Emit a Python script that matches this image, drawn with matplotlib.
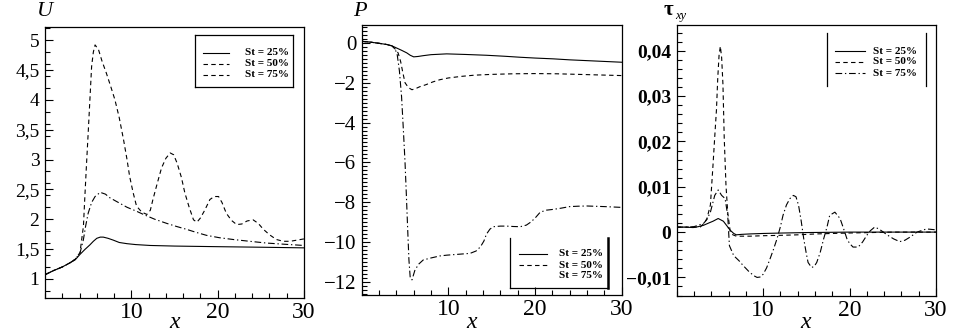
import matplotlib
matplotlib.use("Agg")
import matplotlib.pyplot as plt
from matplotlib.lines import Line2D
from matplotlib.ticker import MultipleLocator, FuncFormatter

# ---- data (x, value) ----
ST_LABELS = ["St = 25%", "St = 50%", "St = 75%"]

# panel 1: U
u_x25 = [0, 1, 2, 2.9, 3.5, 4.05, 4.6, 5.2, 5.6, 6.0, 6.4, 6.75, 7.3, 7.9, 8.6,
         9.5, 10.5, 12.2, 15, 19.9, 25.3, 30]
u_25 = [1.07, 1.14, 1.2, 1.27, 1.32, 1.41, 1.49, 1.57, 1.63, 1.68, 1.70, 1.70,
        1.68, 1.65, 1.61, 1.59, 1.575, 1.56, 1.55, 1.54, 1.53, 1.52]

u_x50 = [0, 1, 2, 2.9, 3.5, 4.05, 4.45, 4.6, 4.8, 5.0, 5.2, 5.4, 5.6, 5.8, 6.2,
         6.6, 7.1, 7.6, 8.1, 8.6, 9.1, 9.5, 9.8, 10.2, 10.6, 11.2, 11.8, 12.2,
         12.5, 13.0, 13.5, 14.0, 14.5, 14.9, 15.3, 15.8, 16.2, 16.7, 17.2, 17.6,
         18.0, 18.5, 19.1, 19.6, 20.1, 20.5, 21.0, 21.6, 22.2, 22.8, 23.4, 24.1,
         24.7, 25.3, 26.0, 26.8, 27.6, 28.4, 29.2, 30]
u_50 = [1.07, 1.14, 1.2, 1.27, 1.33, 1.44, 1.88, 2.33, 2.9, 3.44, 4.0, 4.56,
        4.8, 4.92, 4.84, 4.65, 4.45, 4.23, 4.0, 3.7, 3.33, 3.0, 2.72, 2.45, 2.22,
        2.12, 2.08, 2.15, 2.33, 2.6, 2.86, 3.02, 3.11, 3.08, 2.94, 2.7, 2.44, 2.2,
        1.99, 1.95, 2.02, 2.15, 2.33, 2.38, 2.38, 2.28, 2.1, 1.98, 1.91, 1.92,
        1.97, 1.99, 1.93, 1.83, 1.74, 1.66, 1.63, 1.63, 1.65, 1.67]

u_x75 = [0, 1, 2, 2.9, 3.5, 4.05, 4.45, 4.7, 5.0, 5.4, 5.8, 6.4, 7.0, 7.5, 8.5,
         9.5, 10.5, 11.4, 12.7, 14.1, 15.2, 16.4, 17.5, 18.7, 20.2, 21.8, 23.7,
         25.7, 27.8, 30]
u_75 = [1.07, 1.14, 1.2, 1.27, 1.33, 1.43, 1.66, 1.88, 2.1, 2.28, 2.38, 2.45,
        2.42, 2.36, 2.28, 2.2, 2.14, 2.08, 2.0, 1.93, 1.88, 1.83, 1.78, 1.73,
        1.69, 1.66, 1.63, 1.60, 1.58, 1.56]

# panel 2: P
p_x25 = [0, 1, 2, 2.9, 3.5, 4.0, 4.6, 5.2, 5.6, 6.0, 6.5, 7.1, 8.0, 9.8, 12,
         14.4, 16.5, 18.3, 20, 22.1, 24, 26, 28, 30]
p_25 = [0.08, 0.04, -0.02, -0.08, -0.15, -0.25, -0.37, -0.5, -0.62, -0.7,
        -0.68, -0.64, -0.59, -0.55, -0.58, -0.62, -0.67, -0.72, -0.76, -0.8,
        -0.85, -0.89, -0.93, -0.97]

p_x50 = [0, 1, 2, 2.9, 3.5, 3.85, 4.2, 4.5, 4.75, 5.0, 5.4, 5.8, 6.2, 6.7, 7.4,
         8.2, 9.0, 10, 11.5, 13, 15, 17.5, 20, 22.5, 25, 27.5, 30]
p_50 = [0.08, 0.04, -0.02, -0.08, -0.15, -0.3, -0.5, -0.95, -1.5, -2.0, -2.25,
        -2.35, -2.3, -2.2, -2.1, -1.96, -1.85, -1.76, -1.68, -1.62, -1.58,
        -1.55, -1.54, -1.55, -1.58, -1.61, -1.64]

p_x75 = [0, 1, 2, 2.9, 3.5, 3.85, 4.1, 4.35, 4.6, 4.8, 5.0, 5.15, 5.3, 5.45,
         5.6, 5.8, 6.15, 6.6, 7.1, 8.0, 9.0, 9.8, 11, 12.5, 13.2, 13.7, 14.1,
         14.4, 14.8, 15.2, 16, 16.7, 17.5, 18.3, 19, 19.5, 20, 20.6, 21.3, 22.1,
         23, 24, 25, 26, 28, 30]
p_75 = [0.08, 0.04, -0.02, -0.08, -0.15, -0.3, -0.6, -1.4, -2.7, -4.3, -6.0,
        -7.6, -9.3, -10.9, -11.8, -11.9, -11.4, -11.1, -10.9, -10.8, -10.7,
        -10.66, -10.62, -10.57, -10.45, -10.24, -9.95, -9.6, -9.35, -9.23, -9.2,
        -9.2, -9.22, -9.23, -9.15, -9.0, -8.8, -8.5, -8.4, -8.36, -8.3, -8.22,
        -8.2, -8.19, -8.22, -8.26]

# panel 3: tau_xy
t_x25 = [0, 1, 1.9, 2.5, 3.1, 3.7, 4.2, 4.8, 5.4, 5.8, 6.2, 6.6, 6.9, 7.5, 8.5,
         10, 12.3, 15, 20, 25, 30]
t_25 = [0.0011, 0.0011, 0.001, 0.0012, 0.0015, 0.002, 0.0024, 0.003, 0.0024,
        0.0014, 0.0004, -0.0003, -0.0006, -0.0005, -0.0004, -0.0003, -0.0002,
        -0.0001, 0.0, 0.0, 0.0]

t_x50 = [0, 1, 2.7, 3.2, 3.5, 3.9, 4.2, 4.4, 4.6, 4.75, 4.9, 5.05, 5.2, 5.35,
         5.5, 5.7, 5.9, 6.2, 6.5, 6.9, 8.5, 10, 12.3, 14, 16.2, 18, 20, 25, 30]
t_50 = [0.0011, 0.0011, 0.0011, 0.002, 0.003, 0.006, 0.0148, 0.021, 0.027,
        0.034, 0.039, 0.041, 0.0385, 0.0326, 0.0207, 0.0104, 0.0044, 0.0,
        -0.0006, -0.0009, -0.0009, -0.0008, -0.0007, -0.0006, -0.0004, -0.0003,
        -0.0002, 0.0, 0.0]

t_x75 = [0, 1, 2, 3.1, 3.5, 3.9, 4.4, 4.8, 5.2, 5.6, 5.9, 6.1, 6.6, 7.2, 7.7,
         8.3, 8.9, 9.3, 9.7, 10.0, 10.4, 10.8, 11.2, 11.6, 12.0, 12.3, 12.7,
         13.1, 13.5, 13.8, 14.1, 14.4, 14.7, 15.0, 15.2, 15.6, 15.9, 16.2, 16.6,
         17.0, 17.4, 17.7, 18.3, 18.9, 19.3, 19.7, 20.0, 20.4, 21.0, 21.5, 22.0,
         22.4, 22.9, 23.4, 23.9, 24.5, 25.1, 25.8, 26.4, 27.0, 27.8, 28.9, 30]
t_75 = [0.0011, 0.0011, 0.0012, 0.0019, 0.0028, 0.0044, 0.0081, 0.0093, 0.0081,
        0.0074, 0.0037, -0.003, -0.0052, -0.0063, -0.0074, -0.0086, -0.0096,
        -0.01, -0.0099, -0.0093, -0.0079, -0.0059, -0.0038, -0.0015, 0.0012,
        0.0037, 0.006, 0.0074, 0.0081, 0.0078, 0.0059, 0.0025, -0.0015, -0.0048,
        -0.0067, -0.0078, -0.0076, -0.0067, -0.0045, -0.0015, 0.0012, 0.0037,
        0.0044, 0.003, 0.0008, -0.0015, -0.0025, -0.0033, -0.0033, -0.0022,
        -0.0007, 0.0003, 0.0011, 0.0007, 0.0, -0.0008, -0.0015, -0.0021, -0.0018,
        -0.0011, 0.0, 0.0007, 0.0005]

FIG_W, FIG_H = 975, 331
FONT = "Liberation Serif"

DASHED = (0, (4, 3))
DASHDOT = (0, (6, 2.5, 1.2, 2.5))


def comma_fmt(v, pos):
    if abs(v) < 1e-9:
        return "0"
    s = f"{v:.4f}".rstrip("0").rstrip(".")
    return s.replace(".", ",").replace("-", "\u2212")


def px(x, y):
    # figure pixel (from top-left) -> figure fraction
    return x / FIG_W, 1 - y / FIG_H


def make_axes(fig, x0, x1, ytop, ybot):
    l, t = px(x0, ytop)
    r, b = px(x1, ybot)
    return fig.add_axes([l, b, r - l, t - b])


def style_axes(ax, ylim, ymajor, yminor, ysize, yweight="normal"):
    ax.set_xlim(0, 30)
    ax.set_ylim(*ylim)
    ax.set_xticks([10, 20, 30])
    ax.xaxis.set_minor_locator(MultipleLocator(2))
    ax.yaxis.set_major_locator(MultipleLocator(ymajor))
    ax.yaxis.set_minor_locator(MultipleLocator(yminor))
    ax.yaxis.set_major_formatter(FuncFormatter(comma_fmt))
    ax.xaxis.set_major_formatter(FuncFormatter(comma_fmt))
    ax.tick_params(direction="in", which="major", length=6, width=0.8)
    ax.tick_params(direction="in", which="minor", length=3.5, width=0.8)
    ax.tick_params(axis="x", labelsize=17, pad=3)
    ax.tick_params(axis="y", labelsize=ysize, pad=4)
    for lab in ax.get_yticklabels():
        lab.set_fontweight(yweight)
    for sp in ax.spines.values():
        sp.set_linewidth(0.9)


def draw_legend(fig, x_line0, x_line1, x_text, rows, styles):
    for y, ls, lab in zip(rows, styles, ST_LABELS):
        if ls is not None:
            a = px(x_line0, y)
            b = px(x_line1, y)
            fig.add_artist(Line2D([a[0], b[0]], [a[1], b[1]], color="black",
                                  lw=0.8, linestyle=ls))
        tx, ty = px(x_text, y)
        fig.text(tx, ty, lab, ha="right", va="center", fontsize=8,
                 fontweight="bold", family=FONT)


def seg(fig, x0, y0, x1, y1, lw=0.9):
    a = px(x0, y0)
    b = px(x1, y1)
    fig.add_artist(Line2D([a[0], b[0]], [a[1], b[1]], color="black", lw=lw))


def main():
    plt.rcParams["font.family"] = [FONT, "DejaVu Sans"]

    fig = plt.figure(figsize=(FIG_W / 100, FIG_H / 100), dpi=100)

    line_kw = dict(color="black", lw=0.8)

    # ---- U ----
    ax1 = make_axes(fig, 45, 304, 27, 298)
    ax1.plot(u_x25, u_25, linestyle="-", **line_kw)
    ax1.plot(u_x50, u_50, linestyle=DASHED, **line_kw)
    ax1.plot(u_x75, u_75, linestyle=DASHDOT, **line_kw)
    style_axes(ax1, (0.68, 5.22), 0.5, 0.2, 14)

    # ---- P ----
    ax2 = make_axes(fig, 361.7, 621.7, 25, 295)
    ax2.plot(p_x25, p_25, linestyle="-", **line_kw)
    ax2.plot(p_x50, p_50, linestyle=DASHED, **line_kw)
    ax2.plot(p_x75, p_75, linestyle=DASHDOT, **line_kw)
    style_axes(ax2, (-12.66, 0.9), 2, 0.2, 15)

    # ---- tau_xy ----
    ax3 = make_axes(fig, 676.7, 936, 25, 296)
    ax3.plot(t_x25, t_25, linestyle="-", **line_kw)
    ax3.plot(t_x50, t_50, linestyle=DASHED, **line_kw)
    ax3.plot(t_x75, t_75, linestyle=DASHDOT, **line_kw)
    style_axes(ax3, (-0.0141, 0.0457), 0.01, 0.002, 14, yweight="bold")

    # axis titles
    fig.text(*px(45, 11), "U", ha="center", va="center", fontsize=16,
             style="italic")
    fig.text(*px(360, 11), "P", ha="center", va="center", fontsize=16,
             style="italic")
    fig.text(*px(668, 10), "\u03c4", ha="center", va="center", fontsize=15,
             fontweight="bold")
    fig.text(*px(681, 16), "xy", ha="center", va="center", fontsize=9,
             style="italic")
    for xc in (175, 472, 806):
        fig.text(*px(xc, 322), "x", ha="center", va="center", fontsize=17,
                 style="italic")

    # legend 1: full box
    seg(fig, 195, 35, 293, 35)
    seg(fig, 195, 87, 293, 87)
    seg(fig, 195, 35, 195, 87)
    seg(fig, 293, 35, 293, 87)
    draw_legend(fig, 203, 229, 289, [52.5, 63.5, 74.5], ["-", DASHED, DASHED])

    # legend 2: left / right / bottom lines
    seg(fig, 510, 238, 510, 288)
    seg(fig, 608, 238, 608, 288, lw=1.8)
    seg(fig, 510, 288, 608, 288)
    draw_legend(fig, 519, 547, 603, [254, 265, 276], ["-", DASHED, None])

    # legend 3: brackets only
    seg(fig, 827, 33, 827, 86)
    seg(fig, 926, 33, 926, 86)
    draw_legend(fig, 835, 865, 917, [51, 62, 73], ["-", DASHED, DASHDOT])

    fig.savefig("out.png", dpi=100)
    plt.close(fig)


if __name__ == "__main__":
    main()
